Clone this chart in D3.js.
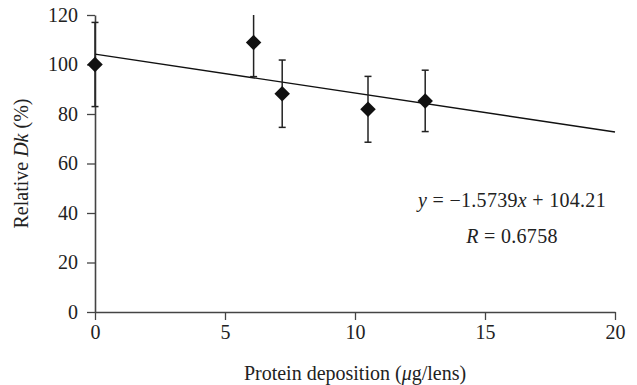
<!DOCTYPE html>
<html>
<head>
<meta charset="utf-8">
<script src="https://cdn.jsdelivr.net/npm/d3@7"></script>
<style>
  body { margin: 0; background: #fff; }
  svg { font-family: "Liberation Serif", "DejaVu Serif", serif; }
</style>
</head>
<body>
<svg id="chart" width="637" height="385"></svg>
<script>
// data
var deposition = [0, 6.1, 7.2, 10.5, 12.7];
var relativeDk = [100, 108.9, 88.2, 81.9, 85.3];
var errors = [17, 13.8, 13.6, 13.3, 12.4];
var fitX = [0, 20];
var fitY = [104.21, 72.73];
var xTicks = [0, 5, 10, 15, 20];
var yTicks = [0, 20, 40, 60, 80, 100, 120];
var equationText = ["y = \u22121.5739", "x", " + 104.21"];
var rText = "R = 0.6758";

var svg = d3.select("#chart"),
    margin = {top: 15, right: 22, bottom: 73, left: 95},
    width = +svg.attr("width") - margin.left - margin.right,
    height = +svg.attr("height") - margin.top - margin.bottom,
    g = svg.append("g").attr("transform", "translate(" + margin.left + "," + margin.top + ")");

var x = d3.scaleLinear().domain([0, 20]).range([0, width]);
var y = d3.scaleLinear().domain([0, 120]).range([height, 0]);

var axisColor = "#444";
var fs = 20;

// axes
var xa = g.append("g")
    .attr("transform", "translate(0," + height + ")")
    .call(d3.axisBottom(x).tickValues(xTicks).tickSize(8).tickSizeOuter(0).tickPadding(5));
var ya = g.append("g")
    .call(d3.axisLeft(y).tickValues(yTicks).tickSize(8).tickSizeOuter(0).tickPadding(9));

[xa, ya].forEach(function(a) {
  a.select(".domain").attr("stroke", axisColor).attr("stroke-width", 1.6);
  a.selectAll(".tick line").attr("stroke", axisColor).attr("stroke-width", 1.3);
  a.selectAll(".tick text")
    .attr("fill", "#222")
    .attr("font-size", fs)
    .attr("font-family", "Liberation Serif, DejaVu Serif, serif");
});

svg.append("defs").append("clipPath").attr("id", "plot")
  .append("rect").attr("x", -10).attr("y", 0).attr("width", width + 20).attr("height", height);

var plot = g.append("g").attr("clip-path", "url(#plot)");

// regression line
plot.append("line")
    .attr("x1", x(fitX[0])).attr("y1", y(fitY[0]))
    .attr("x2", x(fitX[1])).attr("y2", y(fitY[1]))
    .attr("stroke", "#111").attr("stroke-width", 1.4);

var pts = deposition.map(function(d, i) { return {x: d, y: relativeDk[i], e: errors[i]}; });

// error bars
var eb = plot.selectAll(".err").data(pts).enter().append("g").attr("class", "err")
    .attr("stroke", "#222").attr("stroke-width", 1.5);
eb.append("line")
    .attr("x1", function(d) { return x(d.x); }).attr("x2", function(d) { return x(d.x); })
    .attr("y1", function(d) { return y(d.y - d.e); }).attr("y2", function(d) { return y(d.y + d.e); });
[-1, 1].forEach(function(s) {
  eb.append("line")
      .attr("x1", function(d) { return x(d.x) - 3.5; }).attr("x2", function(d) { return x(d.x) + 3.5; })
      .attr("y1", function(d) { return y(d.y + s * d.e); }).attr("y2", function(d) { return y(d.y + s * d.e); });
});

// diamond markers
g.selectAll(".pt").data(pts).enter().append("path")
    .attr("d", d3.symbol(d3.symbolSquare, 120))
    .attr("transform", function(d) { return "translate(" + x(d.x) + "," + y(d.y) + ") rotate(45)"; })
    .attr("fill", "#111");

// annotation
var eq = g.append("text")
    .attr("x", 417).attr("y", 192)
    .attr("text-anchor", "middle")
    .attr("font-size", fs)
    .attr("letter-spacing", 0.3)
    .attr("fill", "#222");
eq.append("tspan").attr("font-style", "italic").text("y");
eq.append("tspan").text(equationText[0].slice(1));
eq.append("tspan").attr("font-style", "italic").text(equationText[1]);
eq.append("tspan").text(equationText[2]);

var rt = g.append("text")
    .attr("x", 417).attr("y", 228)
    .attr("text-anchor", "middle")
    .attr("font-size", fs)
    .attr("letter-spacing", 0.3)
    .attr("fill", "#222");
rt.append("tspan").attr("font-style", "italic").text("R");
rt.append("tspan").text(rText.slice(1));

// axis titles
var xt = svg.append("text")
    .attr("x", margin.left + width / 2).attr("y", 380)
    .attr("text-anchor", "middle")
    .attr("font-size", fs)
    .attr("fill", "#222");
xt.append("tspan").text("Protein deposition (");
xt.append("tspan").attr("font-style", "italic").text("\u03bc");
xt.append("tspan").text("g/lens)");

var yt = svg.append("text")
    .attr("transform", "translate(28," + (margin.top + height / 2) + ") rotate(-90)")
    .attr("text-anchor", "middle")
    .attr("font-size", fs)
    .attr("fill", "#222");
yt.append("tspan").text("Relative ");
yt.append("tspan").attr("font-style", "italic").text("Dk");
yt.append("tspan").text(" (%)");
</script>
</body>
</html>
